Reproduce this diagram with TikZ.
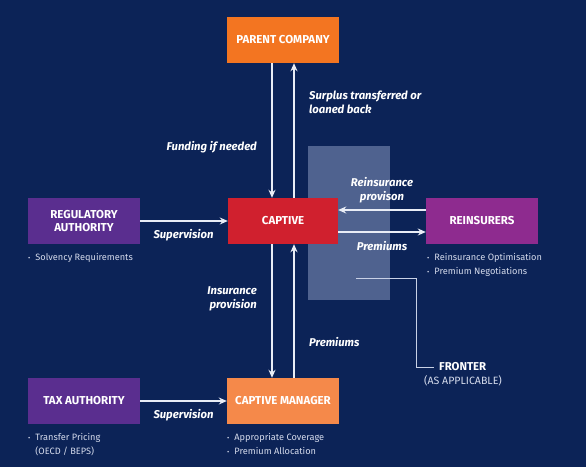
\documentclass[tikz,border=0pt]{standalone}
\usepackage{fontspec}
\setmainfont{Fira Sans}
\usetikzlibrary{arrows.meta,calc}
\definecolor{bg}{HTML}{0C2357}
\definecolor{parentc}{HTML}{F37521}
\definecolor{captivec}{HTML}{D0202E}
\definecolor{regc}{HTML}{5A2E8F}
\definecolor{reinc}{HTML}{8E2B8F}
\definecolor{mgrc}{HTML}{F5894A}
\definecolor{fronterc}{HTML}{4F628F}
\definecolor{arrowc}{HTML}{E9EDF6}
\definecolor{bulc}{HTML}{D5DBEC}
\definecolor{flinec}{HTML}{C9D1E6}
\begin{document}
\begin{tikzpicture}[x=1pt,y=-1pt,
  box/.style={minimum width=112pt, minimum height=46pt, inner sep=2pt, text=white,
    font=\bfseries\fontsize{11.5}{12.5}\selectfont, align=center},
  lab/.style={text=white, font=\bfseries\itshape\fontsize{11.3}{14}\selectfont, inner sep=0pt},
  arr/.style={draw=arrowc, line width=1.5pt, -{Stealth[length=8pt,width=7pt]}},
  bul/.style={text=bulc, font=\fontsize{9.2}{14}\selectfont, inner sep=0pt, anchor=base west},
  fline/.style={draw=flinec, line width=1pt}]
\fill[bg] (0,0) rectangle (586,467);
\useasboundingbox (0,0) rectangle (586,467);

% fronter band
\node[fill=fronterc, minimum width=82pt, minimum height=154pt, inner sep=0pt] (band) at (349,223) {};

% boxes
\node[box, fill=parentc] (parent) at (283,40) {PARENT COMPANY};
\node[box, fill=captivec, minimum width=110pt] (captive) at (283,221) {CAPTIVE};
\node[box, fill=regc] (reg) at (84,221) {REGULATORY\\AUTHORITY};
\node[box, fill=reinc] (rein) at (482,221) {REINSURERS};
\node[box, fill=regc] (tax) at (84,401) {TAX AUTHORITY};
\node[box, fill=mgrc] (mgr) at (283,401) {CAPTIVE MANAGER};

% arrows
\draw[arr] ($(parent.south)+(-11,0)$) -- ($(captive.north)+(-11,0)$);
\draw[arr] ($(captive.north)+(11,0)$) -- ($(parent.south)+(11,0)$);
\draw[arr] ($(captive.south)+(-11,0)$) -- ($(mgr.north)+(-11,0)$);
\draw[arr] ($(mgr.north)+(11,0)$) -- ($(captive.south)+(11,0)$);
\draw[arr] ($(rein.west)+(0,-11)$) -- ($(captive.east)+(0,-11)$);
\draw[arr] ($(captive.east)+(0,11)$) -- ($(rein.west)+(0,11)$);
\draw[arr] (reg.east) -- (captive.west);
\draw[arr] (tax.east) -- (mgr.west);

% labels
\node[lab, anchor=east] (lfund) at (257,147) {Funding if needed};
\node[lab, anchor=west, align=left] (lsurp) at (309,102.5) {Surplus transferred or\\loaned back};
\node[lab, align=center] (lrprov) at (382,190) {Reinsurance\\provison};
\node[lab] (lprem1) at (382,246) {Premiums};
\node[lab] (lsup1) at (183.5,235) {Supervision};
\node[lab, anchor=east, align=right] (liprov) at (257,298.5) {Insurance\\provision};
\node[lab, anchor=west] (lprem2) at (309,342) {Premiums};
\node[lab] (lsup2) at (183.5,415) {Supervision};

% bullets
\node[bul] (breg) at (28,260.5) {\begin{tabular}[t]{@{}l@{\hspace{5pt}}l@{}}{\scriptsize\textbullet} & Solvency Requirements\end{tabular}};
\node[bul] (brein) at (427,260.5) {\begin{tabular}[t]{@{}l@{\hspace{5pt}}l@{}}{\scriptsize\textbullet} & Reinsurance Optimisation\\{\scriptsize\textbullet} & Premium Negotiations\end{tabular}};
\node[bul] (btax) at (28,440.5) {\begin{tabular}[t]{@{}l@{\hspace{5pt}}l@{}}{\scriptsize\textbullet} & Transfer Pricing\\ & (OECD / BEPS)\end{tabular}};
\node[bul] (bmgr) at (227,440.5) {\begin{tabular}[t]{@{}l@{\hspace{5pt}}l@{}}{\scriptsize\textbullet} & Appropriate Coverage\\{\scriptsize\textbullet} & Premium Allocation\end{tabular}};

% fronter
\node[text=white, font=\bfseries\fontsize{11.4}{12}\selectfont, inner sep=5pt, anchor=west] (fronter) at (434,367) {FRONTER};
\node[text=bulc, font=\fontsize{10.6}{12}\selectfont, inner sep=0pt] (fronter2) at (463,381) {(AS APPLICABLE)};
\coordinate (f1) at (356,278);
\draw[fline] (f1) -- (416,278) -- (416,367) -- (fronter.west);
\end{tikzpicture}
\end{document}
